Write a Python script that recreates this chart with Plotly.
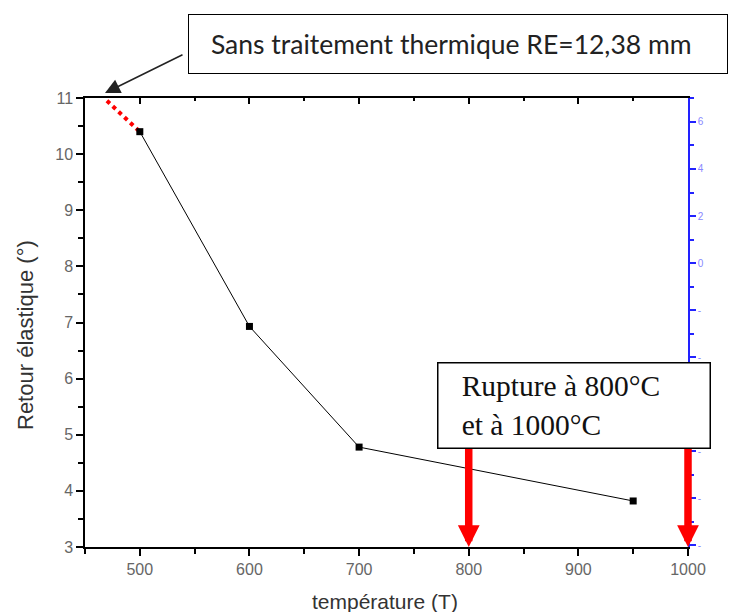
import plotly.graph_objects as go

# Data
temperatures = [500, 600, 700, 950]
retour_elastique = [10.4, 6.93, 4.78, 3.82]
untreated_x = [470, 500]
untreated_y = [10.95, 10.4]
rupture_temps = [800, 1000]

x_ticks = [500, 600, 700, 800, 900, 1000]
y_ticks = [3, 4, 5, 6, 7, 8, 9, 10, 11]
y2_tickvals = [6, 4, 2, 0, -2, -4, -6, -8, -10, -12]
y2_ticktext = ["6", "4", "2", "0", "-", "-", "-", "-", "-", "-"]

fig = go.Figure()

fig.add_trace(go.Scatter(
    x=untreated_x, y=untreated_y, mode="lines",
    line=dict(color="#ff0000", width=4, dash="dot"),
    showlegend=False, hoverinfo="skip"))

fig.add_trace(go.Scatter(
    x=temperatures, y=retour_elastique, mode="lines+markers",
    line=dict(color="black", width=1),
    marker=dict(symbol="square", size=7, color="black"),
    showlegend=False))

# dummy trace to activate the overlay axes
fig.add_trace(go.Scatter(
    x=[x_ticks[-1]], y=[y2_tickvals[3]], xaxis="x2", yaxis="y2",
    mode="markers", marker=dict(opacity=0), showlegend=False, hoverinfo="skip"))

tickfont = dict(family="Liberation Sans, Arial", size=16, color="#666666")

fig.update_layout(
    width=735, height=612,
    margin=dict(l=85, r=47, t=98, b=65),
    paper_bgcolor="white", plot_bgcolor="white",
    xaxis=dict(
        range=[450, 1000], tickvals=x_ticks, ticks="outside", ticklen=7,
        tickwidth=1.5, tickcolor="black", showline=True, linecolor="black",
        linewidth=1.5, showgrid=False, zeroline=False, tickfont=tickfont,
        minor=dict(dtick=50, ticks="outside", ticklen=5, tickcolor="black", tickwidth=1.5),
    ),
    yaxis=dict(
        range=[3, 11], tickvals=y_ticks, ticks="outside", ticklen=7,
        tickwidth=1.5, tickcolor="black", showline=True, linecolor="black",
        linewidth=1.5, showgrid=False, zeroline=False, tickfont=tickfont,
        minor=dict(dtick=0.5, ticks="outside", ticklen=5, tickcolor="black", tickwidth=1.5),
    ),
    xaxis2=dict(
        overlaying="x", side="top", anchor="y", range=[450, 1000],
        tickvals=x_ticks, ticks="inside", ticklen=6, tickwidth=1.5,
        tickcolor="black", showticklabels=False, showline=True,
        linecolor="black", linewidth=1.5, showgrid=False, zeroline=False,
        minor=dict(dtick=50, ticks="inside", ticklen=3, tickcolor="black", tickwidth=1.5),
    ),
    yaxis2=dict(
        overlaying="y", side="right", anchor="x", range=[-12.08, 7.02],
        tickvals=y2_tickvals, ticktext=y2_ticktext, ticks="outside", ticklen=6,
        tickwidth=2, tickcolor="#2222ff", showline=True, linecolor="#2222ff",
        linewidth=1.5, showgrid=False, zeroline=False,
        tickfont=dict(family="Liberation Sans, Arial", size=10, color="#8888ff"),
        minor=dict(dtick=1, ticks="outside", ticklen=4, tickcolor="#2222ff", tickwidth=1.5),
    ),
)

annotations = []
# axis titles
annotations.append(dict(
    x=(25 - 85) / 603, y=(547 - 335) / 449, xref="paper", yref="paper",
    text="Retour élastique (°)", textangle=-90, showarrow=False,
    font=dict(family="Liberation Sans, Arial", size=22, color="#333333"),
    xanchor="center", yanchor="middle"))
annotations.append(dict(
    x=(385 - 85) / 603, y=(547 - 601) / 449, xref="paper", yref="paper",
    text="température (T)", showarrow=False,
    font=dict(family="Liberation Sans, Arial", size=21, color="#333333"),
    xanchor="center", yanchor="middle"))
# Rupture arrows
for t in rupture_temps:
    annotations.append(dict(
        x=t, y=3, xref="x", yref="y", text="", showarrow=True,
        ax=0, ay=-100, axref="pixel", ayref="pixel",
        arrowhead=2, arrowwidth=7.5, arrowsize=0.58, arrowcolor="#ff0000",
        standoff=0))
# arrow to the untreated point
annotations.append(dict(
    x=(105 - 85) / 603, y=(547 - 93) / 449, xref="paper", yref="paper",
    text="", showarrow=True,
    ax=79, ay=-39, arrowhead=2, arrowwidth=1.5, arrowsize=2.0,
    arrowcolor="#222222", standoff=0))
# Top box
annotations.append(dict(
    x=(458 - 85) / 603, y=(547 - 44) / 449, xref="paper", yref="paper",
    text="Sans traitement thermique RE=12,38 mm\u00a0\u00a0", showarrow=False,
    font=dict(family="Lato, Open Sans", size=26.5, color="#222222"),
    bordercolor="black", borderwidth=1, bgcolor="white",
    width=536, height=56, align="center", xanchor="center", yanchor="middle"))
# Rupture box
annotations.append(dict(
    x=(573.5 - 85) / 603, y=(547 - 405) / 449, xref="paper", yref="paper",
    text="\u00a0\u00a0\u00a0Rupture à 800°C<br>\u00a0\u00a0\u00a0et à 1000°C", showarrow=False,
    font=dict(family="Liberation Serif, Times New Roman", size=29.5, color="#111111"),
    bordercolor="black", borderwidth=1.5, bgcolor="white",
    width=269, height=82, align="left", xanchor="center", yanchor="middle"))

fig.update_layout(annotations=annotations)

fig.write_html("out.html")
